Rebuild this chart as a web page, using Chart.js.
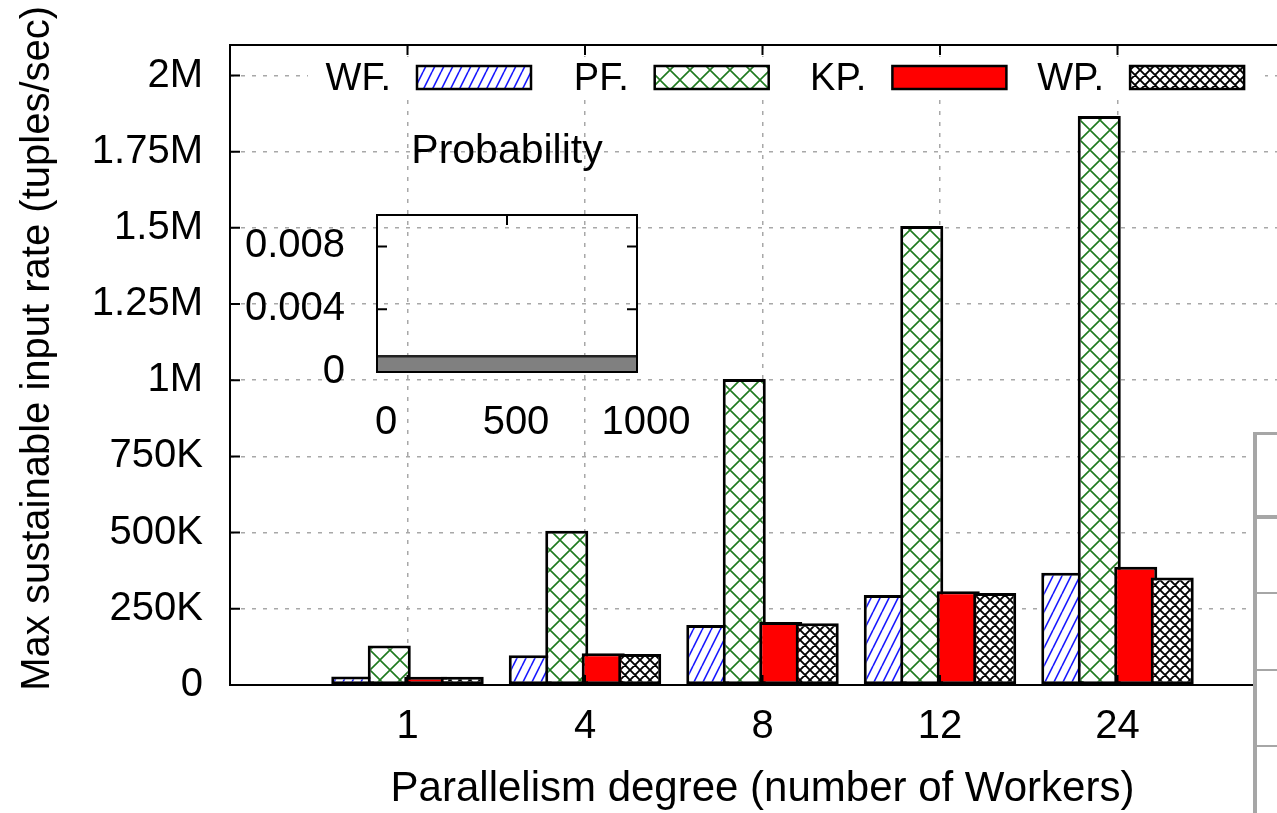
<!DOCTYPE html>
<html>
<head>
<meta charset="utf-8">
<script src="https://cdn.jsdelivr.net/npm/chart.js@4.4.0/dist/chart.umd.min.js"></script>
<style>
  html, body { margin: 0; padding: 0; background: #fff; overflow: hidden; }
  #wrap { position: relative; width: 1277px; height: 813px; overflow: hidden; }
  #main { position: absolute; left: 0; top: 0; }
  #inset { position: absolute; left: 240px; top: 120px; pointer-events: none; }
  .side { position: absolute; background: #a6a6a6; }
</style>
</head>
<body>
<div id="wrap">
  <canvas id="main" width="1300" height="813" style="width:1300px;height:813px"></canvas>
  <canvas id="inset" width="470" height="320" style="width:470px;height:320px"></canvas>
  <!-- piece of the neighbouring table on the right -->
  <div class="side" style="left:1257px;top:433px;width:20px;height:380px;background:#fff"></div>
  <div class="side" style="left:1253px;top:432px;width:4px;height:381px"></div>
  <div class="side" style="left:1253px;top:432px;width:24px;height:3px"></div>
  <div class="side" style="left:1257px;top:515px;width:20px;height:4px"></div>
  <div class="side" style="left:1257px;top:592px;width:20px;height:2px"></div>
  <div class="side" style="left:1257px;top:669px;width:20px;height:2px"></div>
  <div class="side" style="left:1257px;top:745px;width:20px;height:2px"></div>
</div>
<script>
// Max sustainable input rate per parallelism degree
const workers = ['1', '4', '8', '12', '24'];
const seriesNames = ['WF.', 'PF.', 'KP.', 'WP.'];
const wfRate = [28000, 98000, 197000, 295000, 368000];
const pfRate = [130000, 506000, 1004000, 1506000, 1867000];
const kpRate = [27000, 104000, 207000, 308000, 388000];
const wpRate = [27000, 102000, 203000, 302000, 353000];
const yTickValues = [0, 250000, 500000, 750000, 1000000, 1250000, 1500000, 1750000, 2000000];
const yTickLabels = ['0', '250K', '500K', '750K', '1M', '1.25M', '1.5M', '1.75M', '2M'];
const yMax = 2100000;

// inset: probability distribution
const probX = [0, 1000];
const probY = [0.001, 0.001];
const probYTicks = [0, 0.004, 0.008];
const probYLabels = ['0', '0.004', '0.008'];
const probXTicks = [0, 500, 1000];
const probXLabels = ['0', '500', '1000'];

const FONT = '"Liberation Sans", Arial, Helvetica, sans-serif';
Chart.defaults.font.family = FONT;
Chart.defaults.color = '#000';

function hatch(w, h, draw) {
    const c = document.createElement('canvas');
    c.width = w;
    c.height = h;
    const g = c.getContext('2d');
    g.fillStyle = '#fff';
    g.fillRect(0, 0, w, h);
    draw(g, w, h);
    return g.createPattern(c, 'repeat');
}

function diagonal(g, w, h, color, lw) {
    g.strokeStyle = color;
    g.lineWidth = lw;
    g.beginPath();
    for (let k = -1; k <= 1; k++) {
        g.moveTo(k * w, h);
        g.lineTo(k * w + w, 0);
    }
    g.stroke();
}

function cross(g, w, h, color, lw) {
    g.strokeStyle = color;
    g.lineWidth = lw;
    g.beginPath();
    for (let k = -1; k <= 1; k++) {
        g.moveTo(k * w, 0);
        g.lineTo(k * w + w, h);
        g.moveTo(k * w, h);
        g.lineTo(k * w + w, 0);
    }
    g.stroke();
}

const wfFill = hatch(9, 18, (g, w, h) => diagonal(g, w, h, '#1a1aff', 1.6));
const pfFill = hatch(20, 20, (g, w, h) => cross(g, w, h, '#1f7a1f', 1.6));
const wpFill = hatch(10, 10, (g, w, h) => cross(g, w, h, '#000', 1.9));
const kpFill = '#ff0000';

// empty slot on each side so the axis runs from -1 to 5
const labels = ['', ...workers, ''];
const pad = arr => [null, ...arr, null];

const gridColor = '#a8a8a8';

// fixed ticks, and keep the range as given
function fixTicks(values, lo, hi) {
    return s => {
        s.ticks = values.map(v => ({ value: v }));
        s.min = lo;
        s.max = hi;
    };
}

function labelFor(values, names) {
    return v => {
        const i = values.findIndex(t => Math.abs(t - v) < 1e-9);
        return i < 0 ? '' : names[i];
    };
}

const mainPlugin = {
    id: 'mainFrame',
    beforeDatasetsDraw(chart) {
        const ctx = chart.ctx;
        // key box hides the grid behind it
        ctx.save();
        ctx.fillStyle = '#fff';
        ctx.fillRect(308, 57, 957, 40);
        ctx.restore();
        // draw series in order, so each one overlaps the previous
        chart.getSortedVisibleDatasetMetas().forEach(meta => meta.controller.draw());
        return false;
    },
    afterDraw(chart) {
        const ctx = chart.ctx;
        const a = chart.chartArea;
        const xs = chart.scales.x;
        const ys = chart.scales.y;
        ctx.save();
        ctx.strokeStyle = '#000';
        ctx.lineWidth = 2;
        ctx.strokeRect(a.left, a.top, a.right - a.left, a.bottom - a.top);
        ctx.beginPath();
        ys.ticks.forEach(t => {
            const p = ys.getPixelForValue(t.value);
            ctx.moveTo(a.left, p); ctx.lineTo(a.left + 10, p);
            ctx.moveTo(a.right, p); ctx.lineTo(a.right - 10, p);
        });
        workers.forEach((w, i) => {
            const p = xs.getPixelForValue(i + 1);
            ctx.moveTo(p, a.bottom); ctx.lineTo(p, a.bottom - 10);
            ctx.moveTo(p, a.top); ctx.lineTo(p, a.top + 10);
        });
        ctx.stroke();

        // key
        ctx.font = '38px ' + FONT;
        ctx.textAlign = 'right';
        ctx.textBaseline = 'alphabetic';
        chart.data.datasets.forEach((ds, i) => {
            const sx = 417 + i * 237.7;
            ctx.fillStyle = '#000';
            ctx.fillText(ds.label, sx - 26, 90);
            ctx.fillStyle = ds.backgroundColor;
            ctx.fillRect(sx, 66, 114, 23);
            ctx.lineWidth = 2.5;
            ctx.strokeRect(sx, 66, 114, 23);
        });
        ctx.restore();
    }
};

const barStyle = {
    borderColor: '#000',
    borderWidth: 3,
    borderSkipped: false,
    barPercentage: 1.18,
    categoryPercentage: 0.822
};

new Chart(document.getElementById('main'), {
    type: 'bar',
    data: {
        labels: labels,
        datasets: [
            { label: seriesNames[0], data: pad(wfRate), backgroundColor: wfFill, ...barStyle },
            { label: seriesNames[1], data: pad(pfRate), backgroundColor: pfFill, ...barStyle },
            { label: seriesNames[2], data: pad(kpRate), backgroundColor: kpFill, ...barStyle },
            { label: seriesNames[3], data: pad(wpRate), backgroundColor: wpFill, ...barStyle }
        ]
    },
    options: {
        responsive: false,
        animation: false,
        devicePixelRatio: 1,
        layout: { padding: { top: 45, right: 5, left: 0, bottom: 0 } },
        plugins: {
            legend: { display: false },
            tooltip: { enabled: false }
        },
        scales: {
            x: {
                offset: false,
                grid: { offset: false, color: gridColor, lineWidth: 1.5, drawTicks: false },
                border: { display: false, dash: [4, 7] },
                ticks: { font: { size: 40 }, color: '#000', padding: 18, maxRotation: 0, autoSkip: false },
                title: {
                    display: true,
                    text: 'Parallelism degree (number of Workers)',
                    font: { size: 42 },
                    color: '#000',
                    padding: { top: 0, bottom: -2 }
                },
                afterFit: s => {
                    s.height = 128;
                    s.paddingLeft = 0;
                    s.paddingRight = 0;
                }
            },
            y: {
                min: 0,
                max: yMax,
                grid: { color: gridColor, lineWidth: 1.5, drawTicks: false },
                border: { display: false, dash: [4, 7] },
                afterBuildTicks: fixTicks(yTickValues, 0, yMax),
                ticks: {
                    font: { size: 40 },
                    color: '#000',
                    padding: 27,
                    callback: labelFor(yTickValues, yTickLabels)
                },
                title: {
                    display: true,
                    // leading spaces lift the centred text a little, as in the original
                    text: '   Max sustainable input rate (tuples/sec)',
                    font: { size: 40 },
                    color: '#000',
                    padding: { top: 14, bottom: 0 }
                },
                afterFit: s => {
                    s.width = 230;
                    s.paddingTop = 0;
                    s.paddingBottom = 0;
                }
            }
        }
    },
    plugins: [mainPlugin]
});

// ---- inset ----
const insetPlugin = {
    id: 'insetFrame',
    beforeDatasetsDraw(chart) {
        const ctx = chart.ctx;
        const a = chart.chartArea;
        const ys = chart.scales.y;
        const xs = chart.scales.x;
        ctx.save();
        ctx.strokeStyle = '#000';
        ctx.lineWidth = 2;
        ctx.beginPath();
        ys.ticks.forEach(t => {
            if (t.value === 0) return;
            const p = ys.getPixelForValue(t.value);
            ctx.moveTo(a.left, p); ctx.lineTo(a.left + 10, p);
            ctx.moveTo(a.right, p); ctx.lineTo(a.right - 10, p);
        });
        const mid = xs.getPixelForValue(500);
        ctx.moveTo(mid, a.top); ctx.lineTo(mid, a.top + 10);
        ctx.moveTo(mid, a.bottom); ctx.lineTo(mid, a.bottom - 10);
        ctx.stroke();
        ctx.restore();
    },
    afterDraw(chart) {
        const ctx = chart.ctx;
        const a = chart.chartArea;
        ctx.save();
        ctx.strokeStyle = '#000';
        ctx.lineWidth = 2;
        ctx.strokeRect(a.left, a.top, a.right - a.left, a.bottom - a.top);
        ctx.font = '41px ' + FONT;
        ctx.fillStyle = '#000';
        ctx.textAlign = 'center';
        ctx.textBaseline = 'alphabetic';
        ctx.fillText('Probability', (a.left + a.right) / 2, 43);
        ctx.restore();
    }
};

new Chart(document.getElementById('inset'), {
    type: 'line',
    data: {
        datasets: [{
            data: probX.map((x, i) => ({ x: x, y: probY[i] })),
            borderColor: '#222',
            borderWidth: 2.5,
            backgroundColor: '#808080',
            fill: 'origin',
            pointRadius: 0
        }]
    },
    options: {
        responsive: false,
        animation: false,
        devicePixelRatio: 1,
        layout: { padding: { top: 95, right: 73, left: 0, bottom: 0 } },
        plugins: {
            legend: { display: false },
            tooltip: { enabled: false }
        },
        scales: {
            x: {
                type: 'linear',
                min: 0,
                max: 1000,
                grid: { display: false },
                border: { display: false },
                afterBuildTicks: fixTicks(probXTicks, 0, 1000),
                ticks: {
                    font: { size: 40 },
                    color: '#000',
                    padding: 19,
                    labelOffset: 9,
                    maxRotation: 0,
                    callback: labelFor(probXTicks, probXLabels)
                },
                afterFit: s => { s.height = 68; }
            },
            y: {
                min: 0,
                max: 0.01,
                grid: { display: false },
                border: { display: false },
                afterBuildTicks: fixTicks(probYTicks, 0, 0.01),
                ticks: {
                    font: { size: 40 },
                    color: '#000',
                    padding: 24,
                    callback: labelFor(probYTicks, probYLabels)
                },
                afterFit: s => { s.width = 137; }
            }
        }
    },
    plugins: [insetPlugin]
});
</script>
</body>
</html>
